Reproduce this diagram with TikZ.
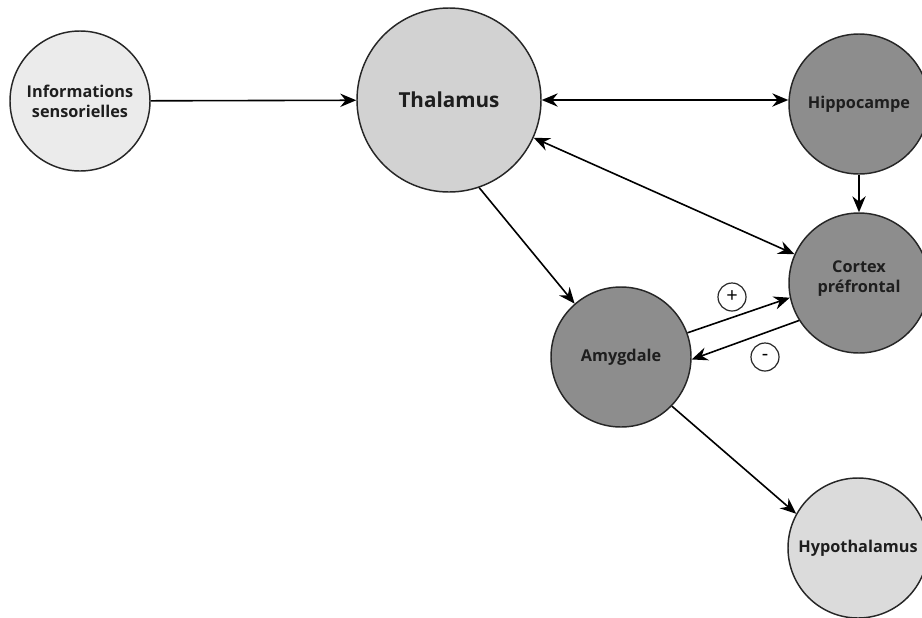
\documentclass[tikz,border=0pt]{standalone}
\usepackage{fontspec}
\setmainfont{Open Sans}
\usetikzlibrary{arrows.meta}

\definecolor{clair}{HTML}{EBEBEB}
\definecolor{moyen}{HTML}{D2D2D2}
\definecolor{fonce}{HTML}{8D8D8D}
\definecolor{texte}{HTML}{1E1E1E}

\tikzset{
	zone/.style={circle, draw=black!85, line width=1.1pt, minimum size=105pt, inner sep=0pt,
		align=center, text=texte, font=\bfseries\fontsize{12.2}{15}\selectfont},
	pointe/.tip={Stealth[length=12pt,width=10pt,inset=4pt]},
	fleche/.style={line width=1.2pt, -pointe},
	double fleche/.style={line width=1.2pt, pointe-pointe},
	signe/.style={circle, draw=black!85, line width=0.9pt, minimum size=21pt, inner sep=0pt,
		font=\fontsize{15}{15}\selectfont}
}

\begin{document}
\begin{tikzpicture}[x=0.75pt, y=-0.75pt]
			\useasboundingbox (0,0) rectangle (922,618);
			% les structures
			\node[zone, fill=clair] (info) at (80,101) {Informations\\sensorielles};
			\node[zone, fill=moyen, minimum size=138pt, font=\bfseries\fontsize{15.5}{18}\selectfont] (thal) at (449,100) {Thalamus};
			\node[zone, fill=fonce] (hippo) at (859,104) {Hippocampe};
			\node[zone, fill=fonce, text depth=9pt] (cortex) at (859,283) {Cortex\\préfrontal};
			\node[zone, fill=fonce] (amyg) at (621,357) {Amygdale};
			\node[zone, fill=moyen!80!white] (hypo) at (858,548) {Hypothalamus};
			% les liaisons
			\draw[fleche] (info) -- (thal);
			\draw[double fleche] (thal.east) -- (hippo.west |- thal.east);
			\draw[double fleche] (thal) -- (cortex);
			\draw[fleche] (hippo) -- (cortex);
			\draw[fleche] (thal.-71) -- (amyg.131);
			\draw[fleche] (amyg.20) -- (cortex.192);
			\draw[fleche] (cortex.212) -- (amyg.-2);
			\draw[fleche] (amyg.-44) -- (hypo.151);
			% les signes
			\node[signe] (plus) at (732,297) {+};
			\node[signe] (moins) at (765,357) {-};
\end{tikzpicture}
\end{document}
